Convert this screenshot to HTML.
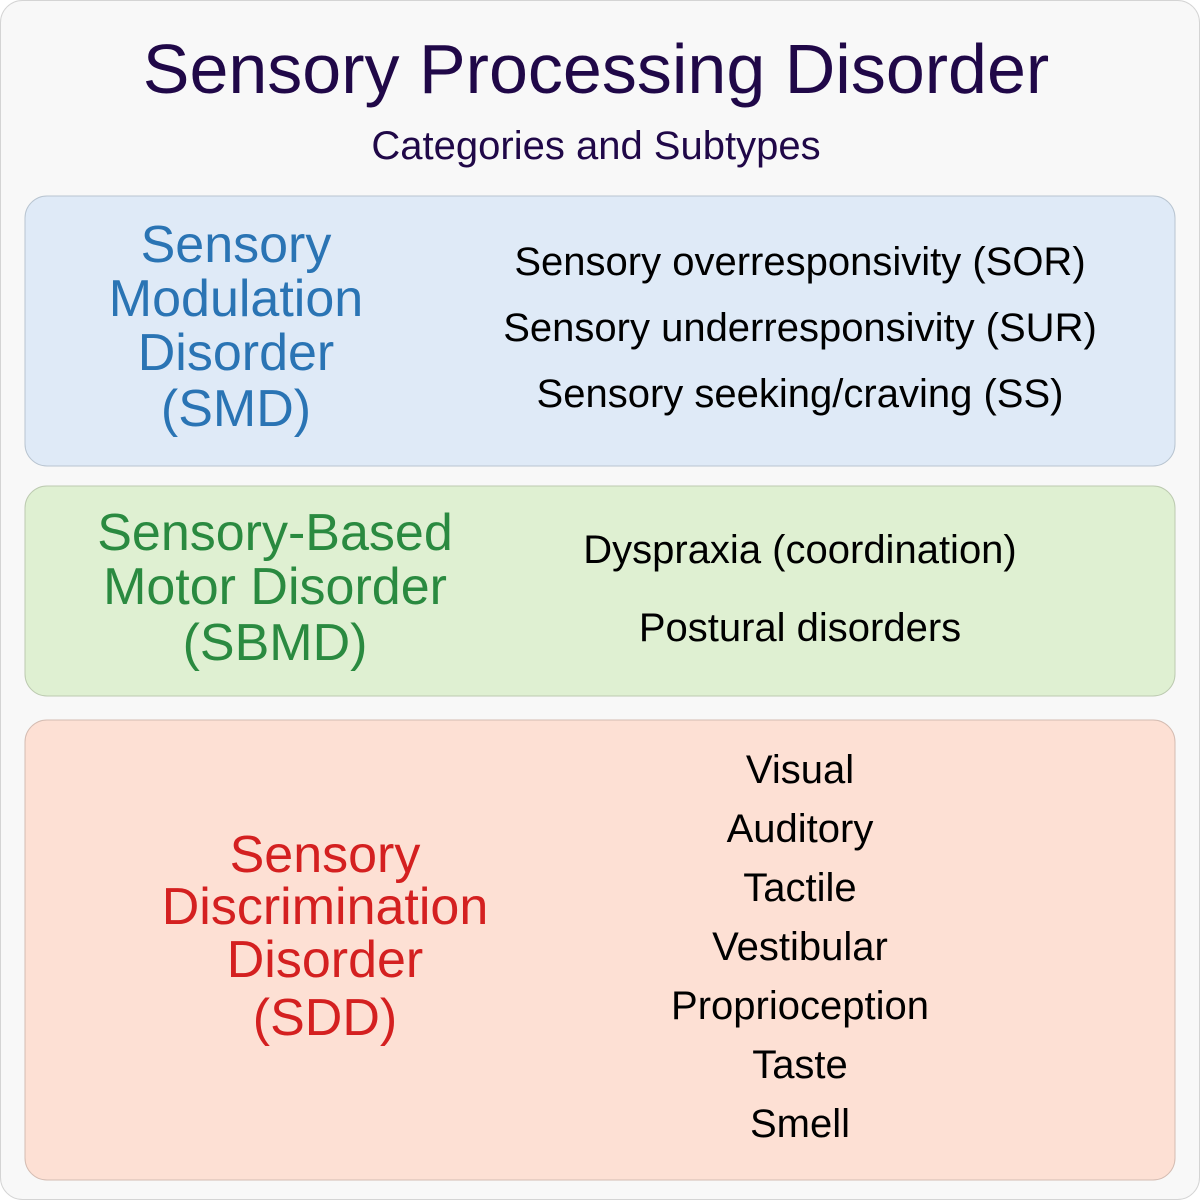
<!DOCTYPE html>
<html><head><meta charset="utf-8"><style>body{margin:0}svg{display:block}</style></head><body>
<svg width="1200" height="1200" viewBox="0 0 1200 1200" xmlns="http://www.w3.org/2000/svg" font-family="Liberation Sans, sans-serif">
<rect x="0.5" y="0.5" width="1199" height="1199" rx="22" fill="#f8f8f8" stroke="#d4d4d4"/>
<text x="596" y="93" font-size="70" fill="#200848" text-anchor="middle">Sensory Processing Disorder</text>
<text x="596" y="159" font-size="40" fill="#200848" text-anchor="middle">Categories and Subtypes</text>
<rect x="25" y="196" width="1150" height="270" rx="22" fill="#dfeaf7" stroke="#b8c4d0"/>
<g font-size="52" fill="#2a74b4" text-anchor="middle">
<text x="236" y="262">Sensory</text><text x="236" y="316">Modulation</text><text x="236" y="370">Disorder</text><text x="236" y="426">(SMD)</text></g>
<g font-size="40" fill="#000" text-anchor="middle">
<text x="800" y="275">Sensory overresponsivity (SOR)</text>
<text x="800" y="341">Sensory underresponsivity (SUR)</text>
<text x="800" y="407">Sensory seeking/craving (SS)</text></g>
<rect x="25" y="486" width="1150" height="210" rx="22" fill="#dff0d2" stroke="#bccab0"/>
<g font-size="52" fill="#2a8a40" text-anchor="middle">
<text x="275" y="550">Sensory-Based</text><text x="275" y="604">Motor Disorder</text><text x="275" y="660">(SBMD)</text></g>
<g font-size="40" fill="#000" text-anchor="middle">
<text x="800" y="563">Dyspraxia (coordination)</text>
<text x="800" y="641">Postural disorders</text></g>
<rect x="25" y="720" width="1150" height="460" rx="22" fill="#fde0d4" stroke="#d4bcb2"/>
<g font-size="52" fill="#d42020" text-anchor="middle">
<text x="325" y="872">Sensory</text><text x="325" y="924">Discrimination</text><text x="325" y="977">Disorder</text><text x="325" y="1035">(SDD)</text></g>
<g font-size="40" fill="#000" text-anchor="middle">
<text x="800" y="783">Visual</text><text x="800" y="842">Auditory</text><text x="800" y="901">Tactile</text><text x="800" y="960">Vestibular</text><text x="800" y="1019">Proprioception</text><text x="800" y="1078">Taste</text><text x="800" y="1137">Smell</text></g>
</svg>
</body></html>
